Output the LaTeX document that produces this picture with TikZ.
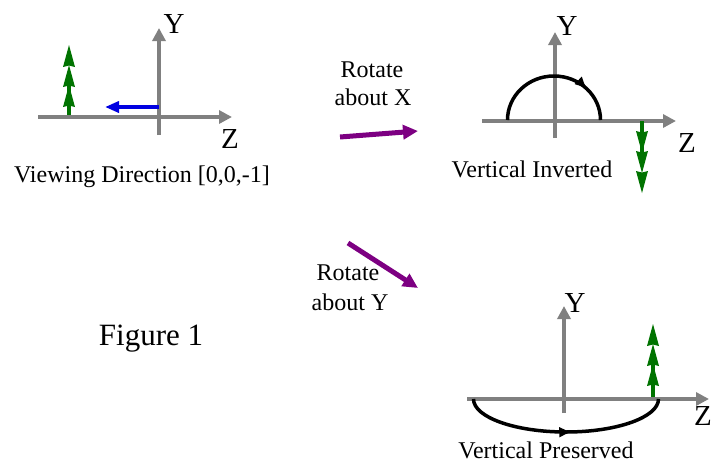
\documentclass[tikz,border=0pt]{standalone}
\usepackage{fontspec}
\setmainfont{Liberation Serif}
\usetikzlibrary{arrows.meta,decorations.markings}
\definecolor{axisgray}{RGB}{128,128,128}
\definecolor{treegreen}{RGB}{0,115,0}
\definecolor{viewblue}{RGB}{0,0,225}
\definecolor{rotpurple}{RGB}{125,0,130}
\newcommand\gtree[4]{% x, base, tip, dir (+1 up, -1 down)
  \draw[treegreen,line width=4pt] (#1,#2) -- ({#1},{#3+#4*30});
  \foreach \k in {0,20,40}{
    \fill[treegreen] ({#1},{#3+#4*\k}) -- ({#1-6},{#3+#4*(\k+22)}) -- ({#1},{#3+#4*(\k+20.5)}) -- ({#1+6},{#3+#4*(\k+22)}) -- cycle;
  }
}
\begin{document}
\begin{tikzpicture}[x=1pt,y=-1pt,
  axis/.style={draw=axisgray,line width=4pt,-{Triangle[length=13pt,width=13pt]}},
  lbl/.style={font=\fontsize{24}{28}\selectfont,anchor=base,inner sep=0pt},
  axl/.style={font=\fontsize{29}{34}\selectfont,anchor=base,inner sep=0pt},
  rotarrow/.style={draw=rotpurple,line width=5pt,-{Triangle[length=15pt,width=14pt]}},
  rotarc/.style={draw=black,line width=3.5pt,postaction={decorate},
    decoration={markings,mark=at position #1 with {\arrow{Latex[length=13pt,width=11pt]}}}}
]
\useasboundingbox (0,0) rectangle (713,472);

% ---- Panel 1 ----
\coordinate (z1s) at (38,117); \coordinate (z1e) at (232,117);
\coordinate (y1s) at (159,135); \coordinate (y1e) at (159,28);
\gtree{69}{117}{45}{1}
\draw[axis] (z1s) -- (z1e);
\draw[axis] (y1s) -- (y1e);
\coordinate (b1s) at (159,107); \coordinate (b1e) at (105,107);
\draw[draw=viewblue,line width=3.5pt,-{Triangle[length=14pt,width=11pt]}] (b1s) -- (b1e);
\node[axl] (Y1) at (174,33) {Y};
\node[axl] (Z1) at (230,148) {Z};
\node[lbl] (view) at (142,182) {Viewing Direction [0,0,-1]};

% ---- Rotate about X ----
\node[lbl] (rx1) at (372,77) {Rotate};
\node[lbl] (rx2) at (373,105) {about X};
\coordinate (px1) at (340,137); \coordinate (px2) at (418,131);
\draw[rotarrow] (px1) -- (px2);

% ---- Panel 2 ----
\coordinate (z2s) at (482,121); \coordinate (z2e) at (676,121);
\coordinate (y2s) at (555,138); \coordinate (y2e) at (555,32);
\draw[axis] (z2s) -- (z2e);
\draw[axis] (y2s) -- (y2e);
\draw[rotarc=0.76] (507.5,120) arc[start angle=180,end angle=360,x radius=46.5,y radius=44];
\gtree{642}{121}{193}{-1}
\node[axl] (Y2) at (567,35) {Y};
\node[axl] (Z2) at (687,152) {Z};
\node[lbl] (inv) at (532,177) {Vertical Inverted};

% ---- Rotate about Y ----
\coordinate (py1) at (348,243); \coordinate (py2) at (418,288);
\draw[rotarrow] (py1) -- (py2);
\node[lbl] (ry1) at (348,280) {Rotate};
\node[lbl] (ry2) at (350,310) {about Y};

% ---- Figure 1 ----
\node[font=\fontsize{31}{36}\selectfont,anchor=base,inner sep=0pt] (fig) at (151,345) {Figure 1};

% ---- Panel 3 ----
\coordinate (z3s) at (467,399); \coordinate (z3e) at (709,399);
\coordinate (y3s) at (564,413); \coordinate (y3e) at (564,306);
\gtree{653}{399}{324}{1}
\draw[axis] (z3s) -- (z3e);
\draw[axis] (y3s) -- (y3e);
\draw[rotarc=0.53] (473.5,399) arc[start angle=180,end angle=0,x radius=92.5,y radius=33];
\node[axl] (Y3) at (575,312) {Y};
\node[axl] (Z3) at (703,425) {Z};
\node[lbl] (pres) at (546,458) {Vertical Preserved};
\end{tikzpicture}
\end{document}
